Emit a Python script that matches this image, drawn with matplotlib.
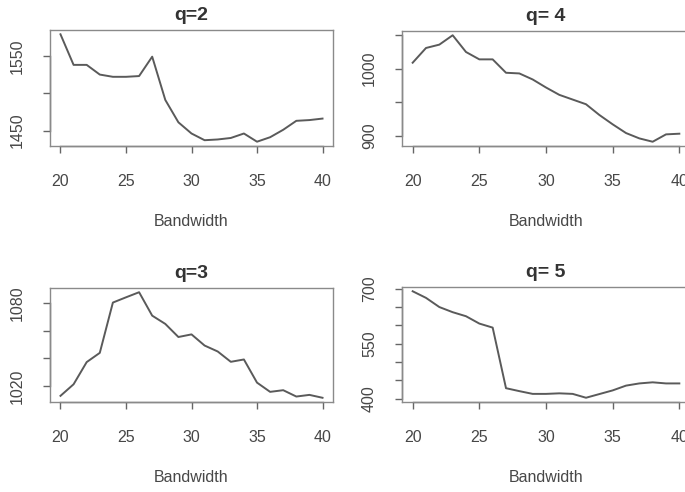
import matplotlib
matplotlib.use("Agg")
import matplotlib.pyplot as plt
import numpy as np

plt.rcParams['font.family'] = ['Liberation Sans', 'DejaVu Sans']

bandwidth = list(range(20, 41))

q2_values = [1579, 1538, 1538, 1525, 1522, 1522, 1523, 1549, 1491, 1461, 1446,
             1437, 1438, 1440, 1446, 1435, 1441, 1451, 1463, 1464, 1466]
q4_values = [1009, 1031, 1036, 1050, 1025, 1014, 1014, 994, 993, 984, 972,
             961, 954, 947, 931, 917, 904, 896, 891, 902, 903]
q3_values = [1012.8, 1021.2, 1037.3, 1044, 1080.5, 1084.3, 1088, 1071, 1065, 1055.5, 1057.4,
             1049.3, 1045, 1037.5, 1039.2, 1022.4, 1015.7, 1016.9, 1012.3, 1013.5, 1011.4]
q5_values = [693, 675, 650, 636, 625, 605, 594, 429, 421, 413.5, 413.5,
             415, 413.5, 403, 413, 423, 436, 442, 445, 442, 442]

titles = ["q=2", "q= 4", "q=3", "q= 5"]
series = [q2_values, q4_values, q3_values, q5_values]
xticks = [20, 25, 30, 35, 40]
yticks = [[1450, 1500, 1550], [900, 950, 1000, 1050], [1020, 1040, 1060, 1080],
          [400, 450, 500, 550, 600, 650, 700]]
ylabels_shown = [[1450, 1550], [900, 1000], [1020, 1080], [400, 550, 700]]

W, H = 685, 492
fig = plt.figure(figsize=(W / 100, H / 100), dpi=100)

# axes boxes in pixels: (left, top, right, bottom)
boxes = [(50, 30, 333, 146), (402, 31, 690, 146), (50, 288, 333, 402), (402, 287, 690, 402)]

line_col = '#5a5a5a'
box_col = '#8a8a8a'
text_col = '#474747'

for i in range(4):
    l, t, r, b = boxes[i]
    ax = fig.add_axes([l / W, 1 - b / H, (r - l) / W, (b - t) / H])
    y = np.array(series[i], dtype=float)
    ax.plot(bandwidth, y, color=line_col, lw=1.4)
    ax.set_xlim(19.2, 40.8)
    yr = y.max() - y.min()
    ax.set_ylim(y.min() - 0.04 * yr, y.max() + 0.04 * yr)
    for s in ax.spines.values():
        s.set_color(box_col)
        s.set_linewidth(1.0)
    ax.set_xticks(xticks)
    ax.set_xticklabels([str(v) for v in xticks])
    ax.set_yticks(yticks[i])
    ax.set_yticklabels([str(v) if v in ylabels_shown[i] else '' for v in yticks[i]],
                       rotation=90, va='center')
    ax.tick_params(axis='both', direction='out', length=5, width=1.0, color='#666666',
                   labelcolor=text_col, labelsize=11.5)
    ax.tick_params(axis='x', pad=15)
    ax.tick_params(axis='y', pad=13)
    # R-style axis lines spanning from first to last tick
    ax.plot([xticks[0], xticks[-1]], [0, 0], color='#666666', lw=1.0,
            transform=ax.get_xaxis_transform(), clip_on=False)
    ax.plot([0, 0], [yticks[i][0], yticks[i][-1]], color='#666666', lw=1.0,
            transform=ax.get_yaxis_transform(), clip_on=False)
    ax.set_title(titles[i], fontsize=14, fontweight='bold', color='#333333', pad=7)
    ax.annotate('Bandwidth', xy=(0.5, 0), xycoords='axes fraction',
                xytext=(0, -76), textcoords='offset pixels',
                ha='center', va='center', fontsize=11.5, color=text_col)

fig.savefig('out.png', dpi=100)
